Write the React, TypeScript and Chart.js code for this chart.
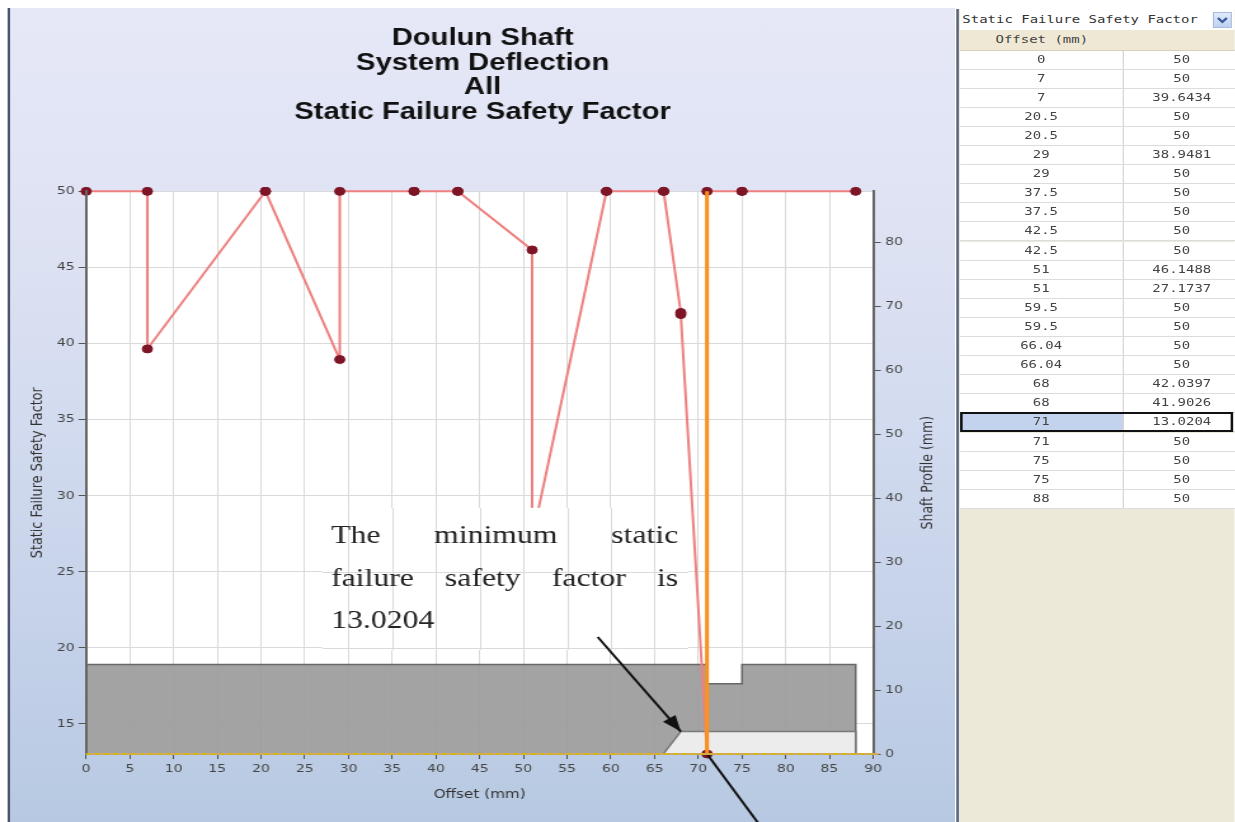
import React, { useEffect, useRef } from "react";
import { Chart, registerables } from "chart.js";

Chart.register(...registerables);

// ---------------- data ----------------
const TITLE_LINES = ["Doulun Shaft", "System Deflection", "All", "Static Failure Safety Factor"];
const X_AXIS_TITLE = "Offset (mm)";
const Y_AXIS_TITLE = "Static Failure Safety Factor";
const Y2_AXIS_TITLE = "Shaft Profile (mm)";
const TABLE_TITLE = "Static Failure Safety Factor";
const TABLE_HEADER = "Offset (mm)";

const OFFSETS = [0, 7, 7, 20.5, 20.5, 29, 29, 37.5, 37.5, 42.5, 42.5, 51, 51, 59.5, 59.5, 66.04, 66.04, 68, 68, 71, 71, 75, 75, 88];
const SAFETY_FACTORS = [50, 50, 39.6434, 50, 50, 38.9481, 50, 50, 50, 50, 50, 46.1488, 27.1737, 50, 50, 50, 50, 42.0397, 41.9026, 13.0204, 50, 50, 50, 50];

const PROFILE_X = [0, 0, 71, 71, 75, 75, 88, 88];
const PROFILE_R = [0, 14, 14, 11, 11, 14, 14, 0];
const BORE_X = [66, 68, 88, 88];
const BORE_R = [0, 3.5, 3.5, 0];

const X_TICKS = [0, 5, 10, 15, 20, 25, 30, 35, 40, 45, 50, 55, 60, 65, 70, 75, 80, 85, 90];
const SF_TICKS = [15, 20, 25, 30, 35, 40, 45, 50];
const PROFILE_TICKS = [0, 10, 20, 30, 40, 50, 60, 70, 80];
const X_RANGE = [0, 90];
const PROFILE_RANGE = [0, 88];

const NOTE_WORDS = [["The", "minimum", "static"], ["failure", "safety", "factor", "is"]];
const NOTE_TEXT_X = [28.0, 67.7]; // offset units
const NOTE_BOX_Y = [19.85, 29.2]; // safety factor units
const NOTE_FIRST_BASELINE = 26.88; // safety factor units
const ARROW_FROM = [58.5, 18.3]; // offset, shaft profile units

const SF_MIN = Math.min(...SAFETY_FACTORS);
const SF_MAX = Math.max(...SAFETY_FACTORS);
const MIN_INDEX = SAFETY_FACTORS.indexOf(SF_MIN);

// ---------------- layout / style ----------------
const S = 1.27;
const W0 = 1235 / S;
const CANVAS_LEFT = 10 / S;
const CANVAS_W = 744;
const CANVAS_H = 814;
const GRID = "#dadada";
const TICK_FONT = { family: '"DejaVu Sans", sans-serif', size: 11 };
const AXIS_TITLE_FONT = { family: '"DejaVu Sans", sans-serif', size: 12 };

const plotBg = {
  id: "plotBg",
  beforeDraw(chart: any) {
    const { ctx, chartArea: a } = chart;
    ctx.save();
    ctx.fillStyle = "#ffffff";
    ctx.fillRect(a.left, a.top, a.right - a.left, a.bottom - a.top);
    ctx.restore();
  },
};

function drawArrow(ctx: any, x0: number, y0: number, x1: number, y1: number, head: boolean) {
  ctx.beginPath();
  ctx.moveTo(x0, y0);
  ctx.lineTo(x1, y1);
  ctx.stroke();
  if (head) {
    const a = Math.atan2(y1 - y0, x1 - x0);
    const L = 16, W = 6;
    ctx.beginPath();
    ctx.moveTo(x1, y1);
    ctx.lineTo(x1 - L * Math.cos(a) + W * Math.sin(a), y1 - L * Math.sin(a) - W * Math.cos(a));
    ctx.lineTo(x1 - L * Math.cos(a) - W * Math.sin(a), y1 - L * Math.sin(a) + W * Math.cos(a));
    ctx.closePath();
    ctx.fill();
  }
}

const notePlugin = {
  id: "note",
  afterDatasetsDraw(chart: any) {
    const { ctx } = chart;
    const { x, y, y2 } = chart.scales;
    const tl = x.getPixelForValue(NOTE_TEXT_X[0]);
    const tr = x.getPixelForValue(NOTE_TEXT_X[1]);
    const bl = tl - 7;
    const br = tr + 8;
    const bt = y.getPixelForValue(NOTE_BOX_Y[1]);
    const bb = y.getPixelForValue(NOTE_BOX_Y[0]);
    ctx.save();
    ctx.fillStyle = "#ffffff";
    ctx.fillRect(bl, bt, br - bl, bb - bt);
    ctx.beginPath();
    ctx.rect(bl, bt, br - bl, bb - bt);
    ctx.clip();
    ctx.strokeStyle = GRID;
    ctx.lineWidth = 1;
    for (const t of x.ticks) {
      const px = Math.round(x.getPixelForValue(t.value)) + 0.5;
      ctx.beginPath();
      ctx.moveTo(px, bt);
      ctx.lineTo(px, bb);
      ctx.stroke();
    }
    for (const t of y.ticks) {
      const py = Math.round(y.getPixelForValue(t.value)) + 0.5;
      ctx.beginPath();
      ctx.moveTo(bl, py);
      ctx.lineTo(br, py);
      ctx.stroke();
    }
    ctx.restore();

    ctx.save();
    ctx.font = '25px "Liberation Serif", serif';
    ctx.fillStyle = "#222";
    ctx.textBaseline = "alphabetic";
    ctx.textAlign = "left";
    const base0 = y.getPixelForValue(NOTE_FIRST_BASELINE);
    const gap = 42.5;
    NOTE_WORDS.forEach((words, i) => {
      const widths = words.map((w) => ctx.measureText(w).width);
      const total = widths.reduce((s, v) => s + v, 0);
      const g = (tr - tl - total) / (words.length - 1);
      let cx = tl;
      words.forEach((w, j) => {
        ctx.fillText(w, cx, base0 + i * gap);
        cx += widths[j] + g;
      });
    });
    ctx.fillText(String(SF_MIN), tl, base0 + NOTE_WORDS.length * gap);
    ctx.restore();

    ctx.save();
    ctx.strokeStyle = "#111";
    ctx.fillStyle = "#111";
    ctx.lineWidth = 2;
    drawArrow(
      ctx,
      x.getPixelForValue(ARROW_FROM[0]),
      y2.getPixelForValue(ARROW_FROM[1]),
      x.getPixelForValue(BORE_X[1]),
      y2.getPixelForValue(BORE_R[1]),
      true
    );
    const mx = x.getPixelForValue(OFFSETS[MIN_INDEX]);
    const my = y.getPixelForValue(SF_MIN);
    drawArrow(ctx, mx, my, mx + 0.6 * (chart.height - my), chart.height + 2, false);
    ctx.restore();
  },
};

const overlayPlugin = {
  id: "overlay",
  afterDraw(chart: any) {
    const { ctx, chartArea: a } = chart;
    const s = chart.scales.y2;
    // dashed baseline of the offset axis
    ctx.save();
    const by = Math.round(a.bottom);
    ctx.lineWidth = 2;
    ctx.strokeStyle = "#d9a36a";
    ctx.beginPath();
    ctx.moveTo(a.left, by);
    ctx.lineTo(a.right + 4, by);
    ctx.stroke();
    ctx.setLineDash([4, 3]);
    ctx.strokeStyle = "#cdb81c";
    ctx.beginPath();
    ctx.moveTo(a.left, by);
    ctx.lineTo(a.right + 4, by);
    ctx.stroke();
    ctx.restore();
    // right axis title (reads bottom to top)
    ctx.save();
    ctx.translate(s.right - 21.2, (a.top + a.bottom) / 2);
    ctx.rotate(-Math.PI / 2);
    ctx.textAlign = "center";
    ctx.textBaseline = "middle";
    ctx.font = '12.5px "DejaVu Sans", sans-serif';
    ctx.fillStyle = "#333";
    ctx.fillText(Y2_AXIS_TITLE, 0, 0);
    ctx.restore();
  },
};

function buildConfig(): any {
  const sfData = OFFSETS.map((o, i) => ({ x: o, y: SAFETY_FACTORS[i] }));
  const profileData = PROFILE_X.map((o, i) => ({ x: o, y: PROFILE_R[i] }));
  const boreData = BORE_X.map((o, i) => ({ x: o, y: BORE_R[i] }));
  const highlight = [
    { x: OFFSETS[MIN_INDEX], y: SAFETY_FACTORS[MIN_INDEX] },
    { x: OFFSETS[MIN_INDEX + 1], y: SAFETY_FACTORS[MIN_INDEX + 1] },
  ];
  return {
    type: "line",
    data: {
      datasets: [
        {
          label: "Shaft",
          data: profileData,
          yAxisID: "y2",
          borderColor: "#676767",
          borderWidth: 1.5,
          backgroundColor: "rgba(156,156,156,0.93)",
          fill: "origin",
          pointRadius: 0,
          tension: 0,
          order: 10,
        },
        {
          label: "Bore",
          data: boreData,
          yAxisID: "y2",
          borderColor: "#7a7a7a",
          borderWidth: 1.5,
          backgroundColor: "#ececec",
          fill: "origin",
          pointRadius: 0,
          tension: 0,
          order: 9,
        },
        {
          label: "Static Failure Safety Factor",
          data: sfData,
          yAxisID: "y",
          borderColor: "#ee8080",
          borderWidth: 2,
          pointRadius: 4,
          pointBackgroundColor: "#7d1526",
          pointBorderColor: "#7d1526",
          pointBorderWidth: 1,
          tension: 0,
          fill: false,
          clip: false,
          order: 2,
        },
        {
          label: "Selected",
          data: highlight,
          yAxisID: "y",
          borderColor: "#f7931e",
          borderWidth: 3,
          pointRadius: 0,
          fill: false,
          clip: false,
          order: 1,
        },
      ],
    },
    options: {
      animation: false,
      responsive: false,
      events: [],
      layout: { padding: 0 },
      plugins: {
        legend: { display: false },
        tooltip: { enabled: false },
        title: {
          display: true,
          text: TITLE_LINES,
          color: "#111",
          font: { family: '"Liberation Sans", Arial, sans-serif', size: 23, weight: "bold", lineHeight: 1.08 },
          padding: { top: 18, bottom: 66 },
        },
      },
      scales: {
        x: {
          type: "linear",
          min: X_RANGE[0],
          max: X_RANGE[1],
          afterBuildTicks: (s: any) => {
            s.ticks = X_TICKS.map((v) => ({ value: v }));
          },
          afterFit: (s: any) => {
            s.height = 68;
          },
          ticks: { font: TICK_FONT, color: "#444", padding: 4, maxRotation: 0, autoSkip: false },
          grid: { color: GRID, lineWidth: 1, tickColor: "#555", tickLength: 5 },
          border: { display: false },
          title: { display: true, text: X_AXIS_TITLE, color: "#333", font: AXIS_TITLE_FONT, padding: { top: 0, bottom: 19.5 } },
        },
        y: {
          type: "linear",
          position: "left",
          min: SF_MIN,
          max: SF_MAX,
          afterBuildTicks: (s: any) => {
            s.ticks = SF_TICKS.map((v) => ({ value: v }));
          },
          afterFit: (s: any) => {
            s.width = 86 / S - CANVAS_LEFT;
          },
          ticks: { font: TICK_FONT, color: "#444", padding: 3 },
          grid: { color: GRID, lineWidth: 1, tickColor: "#555", tickLength: 6 },
          border: { display: true, color: "#666", width: 2, z: 1 },
          title: {
            display: true,
            text: Y_AXIS_TITLE,
            color: "#333",
            font: { family: '"DejaVu Sans", sans-serif', size: 12.8 },
            padding: { top: 14, bottom: 0 },
          },
        },
        y2: {
          type: "linear",
          position: "right",
          min: PROFILE_RANGE[0],
          max: PROFILE_RANGE[1],
          afterBuildTicks: (s: any) => {
            s.ticks = PROFILE_TICKS.map((v) => ({ value: v }));
          },
          afterFit: (s: any) => {
            s.width = CANVAS_W - (873 / S - CANVAS_LEFT);
          },
          ticks: { font: TICK_FONT, color: "#444", padding: 3.5 },
          grid: { drawOnChartArea: false, tickColor: "#555", tickLength: 6 },
          border: { display: true, color: "#666", width: 2, z: 1 },
        },
      },
    },
    plugins: [plotBg, notePlugin, overlayPlugin],
  };
}

// ---------------- table ----------------
const ROW_TOP = 41.5; // relative to table box
const ROW_H = 19.1;
const COL1_W = 164 / S;
const COL2_W = 116 / S;

function DataTable() {
  const mono = '"DejaVu Sans Mono", "Liberation Mono", monospace';
  const rows = OFFSETS.map((o, i) => {
    const sel = i === MIN_INDEX;
    return (
      <div
        key={i}
        style={{
          position: "absolute",
          left: 1,
          top: ROW_TOP + i * ROW_H,
          height: ROW_H,
          width: COL1_W + COL2_W,
          display: "flex",
          background: "#fff",
          borderBottom: "1px solid #dcdcdc",
          boxSizing: "border-box",
        }}
      >
        <div
          style={{
            width: COL1_W,
            textAlign: "center",
            lineHeight: ROW_H - 1 + "px",
            borderRight: "1px solid #d6d6d6",
            background: sel ? "#c3d3ee" : "#fff",
            boxSizing: "border-box",
          }}
        >
          {String(o)}
        </div>
        <div style={{ width: COL2_W, textAlign: "center", lineHeight: ROW_H - 1 + "px" }}>{String(SAFETY_FACTORS[i])}</div>
        {sel ? (
          <div
            style={{
              position: "absolute",
              left: 0,
              top: -1,
              width: 273 / S,
              height: ROW_H + 1,
              border: "2px solid #111",
              boxSizing: "border-box",
            }}
          />
        ) : null}
      </div>
    );
  });
  return (
    <div
      style={{
        position: "absolute",
        left: 956 / S,
        top: 9,
        width: W0 - 956 / S,
        height: 813,
        borderLeft: "2px solid #5a6680",
        fontFamily: mono,
        fontSize: 11,
        color: "#444",
        background: "#ece9d8",
        overflow: "hidden",
      }}
    >
      <div style={{ position: "absolute", left: 1, top: 0, width: 300, height: 21, background: "#fff" }}>
        <div style={{ position: "absolute", left: 2, top: 0, lineHeight: "21px", color: "#333", whiteSpace: "pre" }}>{TABLE_TITLE}</div>
        <div
          style={{
            position: "absolute",
            left: 199,
            top: 3,
            width: 15,
            height: 16,
            boxSizing: "border-box",
            border: "1px solid #a9bcdf",
            background: "linear-gradient(#e2ebfb, #bcd0f2)",
          }}
        >
          <svg width="13" height="14" style={{ display: "block" }}>
            <polyline points="3,5 6.5,9 10,5" fill="none" stroke="#3b5a9a" strokeWidth="2" />
          </svg>
        </div>
      </div>
      <div
        style={{
          position: "absolute",
          left: 1,
          top: 21,
          width: 300,
          height: 20.5,
          background: "#efe8d4",
          borderBottom: "1px solid #d8d0bc",
          boxSizing: "border-box",
        }}
      >
        <div style={{ width: COL1_W, textAlign: "center", lineHeight: "19px", color: "#444", whiteSpace: "pre" }}>{TABLE_HEADER}</div>
      </div>
      {rows}
    </div>
  );
}

export default function App() {
  const ref = useRef<HTMLCanvasElement | null>(null);
  useEffect(() => {
    if (!ref.current) return;
    const chart = new Chart(ref.current, buildConfig());
    return () => chart.destroy();
  }, []);
  return (
    <div
      style={{
        position: "absolute",
        left: 0,
        top: 0,
        width: W0,
        height: 822,
        transform: `scaleX(${S})`,
        transformOrigin: "0 0",
        background: "#fff",
        overflow: "hidden",
      }}
    >
      <div
        style={{
          position: "absolute",
          left: 8 / S,
          top: 8,
          width: (955 - 8) / S,
          height: 814,
          boxSizing: "border-box",
          borderLeft: "2px solid #4a5370",
          background: "linear-gradient(180deg, #e6e8f7 0%, #dde2f3 30%, #cbd6ec 65%, #b7c9e2 100%)",
        }}
      />
      <canvas
        ref={ref}
        width={CANVAS_W}
        height={CANVAS_H}
        style={{ position: "absolute", left: CANVAS_LEFT, top: 8, width: CANVAS_W, height: CANVAS_H }}
      />
      <DataTable />
    </div>
  );
}
